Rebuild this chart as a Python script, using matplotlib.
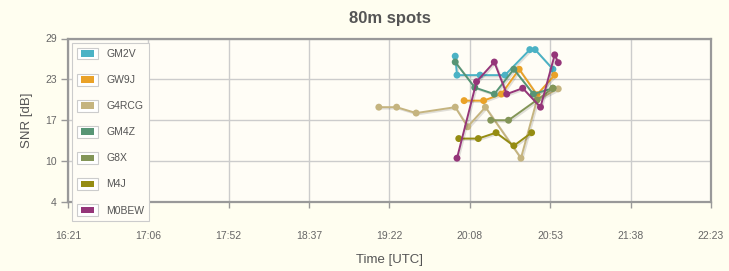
import matplotlib
matplotlib.use("Agg")
import matplotlib.pyplot as plt
import matplotlib.patches as mpatches
import matplotlib.patheffects as pe
from matplotlib.legend_handler import HandlerPatch, HandlerTuple
import numpy as np

# spot data: time (UTC) and SNR in dB per station
gm2v_t = ["19:59", "20:00", "20:13", "20:27", "20:41", "20:44", "20:54"]
gm2v_snr = [26.3, 23.4, 23.4, 23.4, 27.3, 27.3, 24.3]

gw9j_t = ["20:04", "20:15", "20:25", "20:35", "20:45", "20:55"]
gw9j_snr = [19.5, 19.5, 20.5, 24.3, 20.4, 23.4]

g4rcg_t = ["19:16", "19:26", "19:37", "19:59", "20:06", "20:16", "20:36", "20:45", "20:57"]
g4rcg_snr = [18.5, 18.5, 17.6, 18.5, 15.5, 18.5, 10.7, 19.6, 21.3]

gm4z_t = ["19:59", "20:10", "20:21", "20:32", "20:43", "20:54"]
gm4z_snr = [25.4, 21.5, 20.5, 24.3, 20.5, 21.4]

g8x_t = ["20:19", "20:29", "20:45", "20:54"]
g8x_snr = [16.5, 16.5, 19.6, 21.4]

m4j_t = ["20:01", "20:12", "20:22", "20:32", "20:42"]
m4j_snr = [13.7, 13.7, 14.6, 12.6, 14.6]

m0bew_t = ["20:00", "20:11", "20:21", "20:28", "20:37", "20:47", "20:55", "20:57"]
m0bew_snr = [10.7, 22.4, 25.4, 20.5, 21.4, 18.5, 26.5, 25.3]

stations = ["GM2V", "GW9J", "G4RCG", "GM4Z", "G8X", "M4J", "M0BEW"]
colors = ["#4bb2c5", "#eaa228", "#c5b47f", "#579575", "#839557", "#958c12", "#953579"]
series = [(gm2v_t, gm2v_snr), (gw9j_t, gw9j_snr), (g4rcg_t, g4rcg_snr),
          (gm4z_t, gm4z_snr), (g8x_t, g8x_snr), (m4j_t, m4j_snr), (m0bew_t, m0bew_snr)]

x_tick_labels = ["16:21", "17:06", "17:52", "18:37", "19:22", "20:08", "20:53", "21:38", "22:23"]
y_tick_labels = ["4", "10", "17", "23", "29"]
x_min, x_max = "16:21", "22:23"
y_min, y_max = 4, 29


def to_min(s):
    h, m = s.split(":")
    return int(h) * 60 + int(m)


plt.rcParams["font.family"] = ["Liberation Sans", "DejaVu Sans"]

BG = "#fffef0"
fig = plt.figure(figsize=(7.29, 2.71), dpi=100, facecolor=BG)
ax = fig.add_axes([68 / 729, 1 - 202 / 271, (711 - 68) / 729, (202 - 38.5) / 271])
ax.set_facecolor("#fffdf6")

shadow = [pe.SimpleLineShadow(offset=(1.0, -1.0), shadow_color="k", alpha=0.12), pe.Normal()]
for (ts, snr), col, name in zip(series, colors, stations):
    ax.plot([to_min(t) for t in ts], snr, color=col, lw=1.4, marker="o",
            markersize=5, markeredgewidth=0, label=name, path_effects=shadow, zorder=3)

x0, x1 = to_min(x_min), to_min(x_max)
ax.set_xlim(x0, x1)
ax.set_ylim(y_min, y_max)
ax.set_xticks(np.linspace(x0, x1, len(x_tick_labels)))
ax.set_xticklabels(x_tick_labels)
ax.set_yticks(np.linspace(y_min, y_max, len(y_tick_labels)))
ax.set_yticklabels(y_tick_labels)
ax.grid(True, color="#cccccc", lw=1)
ax.set_axisbelow(True)
ax.tick_params(axis="x", length=4, width=1, color="#999999", pad=17, labelsize=7.5, labelcolor="#666666")
ax.tick_params(axis="y", length=5, width=1, color="#999999", pad=3, labelsize=7.5, labelcolor="#666666")
for sp in ax.spines.values():
    sp.set_color("#999999")
    sp.set_linewidth(1.6)

ax.set_title("80m spots", fontsize=12, color="#555555", fontweight="bold", pad=11)
ax.set_xlabel("Time [UTC]", fontsize=9.5, color="#555555", labelpad=9)
ax.set_ylabel("SNR [dB]", fontsize=9.5, color="#555555", labelpad=9)


# legend swatches: grey framed box with an inset colour block
class Inner(mpatches.Patch):
    pass


def inner_box(legend, orig_handle, xdescent, ydescent, width, height, fontsize):
    return mpatches.Rectangle((-xdescent + 2.5, -ydescent + 1.8), width - 5, height - 3.6)


handles = []
for col in colors:
    frame = mpatches.Patch(facecolor="white", edgecolor="#cccccc", lw=0.8)
    handles.append((frame, Inner(facecolor=col, edgecolor="none")))

leg = ax.legend(handles, stations, loc="upper left", bbox_to_anchor=(0.006, 0.975),
                handler_map={tuple: HandlerTuple(ndivide=1), Inner: HandlerPatch(patch_func=inner_box)},
                fontsize=7.5, labelcolor="#555555", frameon=True, fancybox=False,
                edgecolor="#cccccc", facecolor="#fffdf6", framealpha=1,
                handlelength=2.0, handleheight=1.35, handletextpad=0.8,
                labelspacing=1.38, borderpad=0.5, borderaxespad=0)
leg.get_frame().set_linewidth(0.8)
leg.set_zorder(5)

fig.savefig("out.png", dpi=100, facecolor=BG)
